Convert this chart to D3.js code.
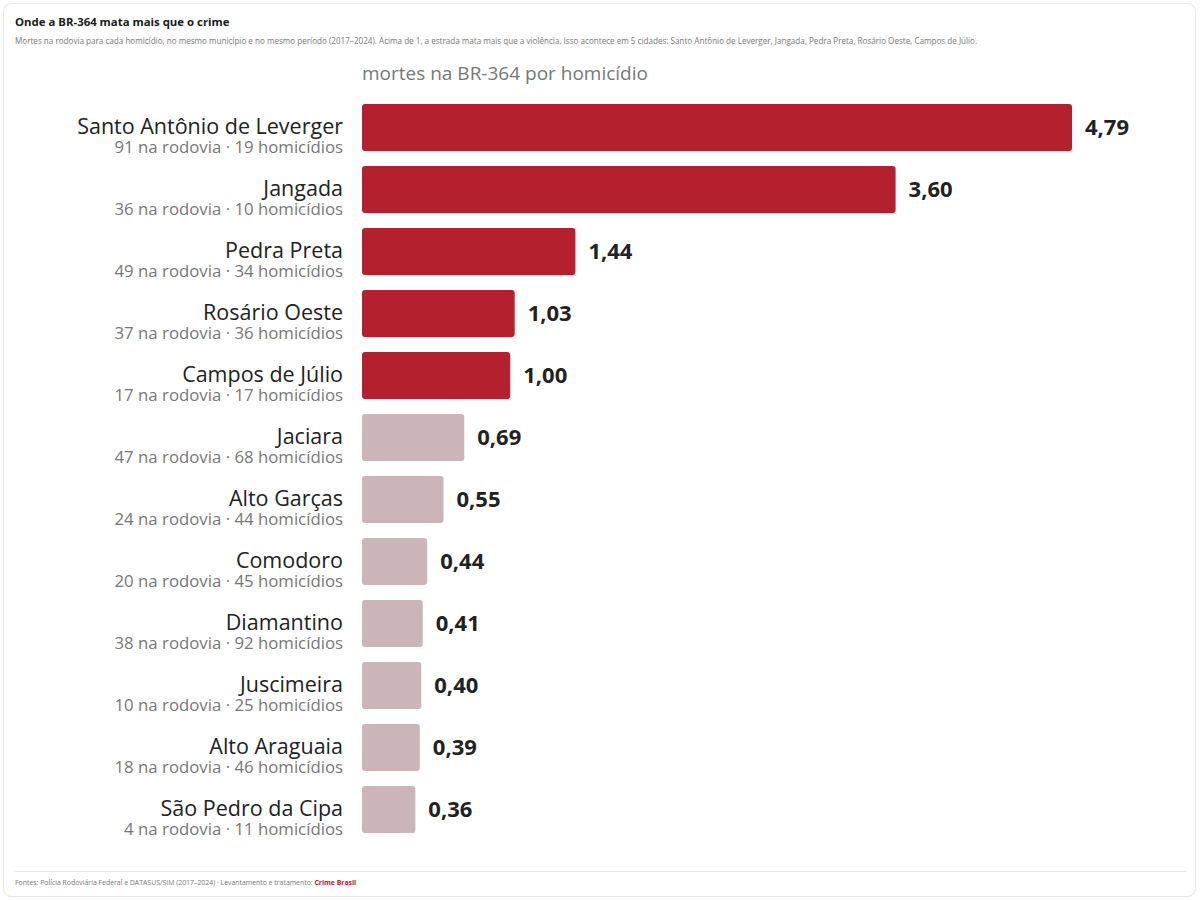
<!DOCTYPE html>
<html>
<head>
<meta charset="utf-8">
<script src="https://cdn.jsdelivr.net/npm/d3@7"></script>
<style>
  html, body { margin: 0; padding: 0; background: #fff; }
  svg { display: block; font-family: "Open Sans", "Noto Sans", sans-serif; }
</style>
</head>
<body>
<svg id="chart" width="1200" height="900"></svg>
<script>
const cities = ["Santo Antônio de Leverger", "Jangada", "Pedra Preta", "Rosário Oeste", "Campos de Júlio", "Jaciara", "Alto Garças", "Comodoro", "Diamantino", "Juscimeira", "Alto Araguaia", "São Pedro da Cipa"];
const ratios = [4.79, 3.60, 1.44, 1.03, 1.00, 0.69, 0.55, 0.44, 0.41, 0.40, 0.39, 0.36];
const roadDeaths = [91, 36, 49, 37, 17, 47, 24, 20, 38, 10, 18, 4];
const homicides = [19, 10, 34, 36, 17, 68, 44, 45, 92, 25, 46, 11];

const titleText = "Onde a BR-364 mata mais que o crime";
const subtitleText = "Mortes na rodovia para cada homicídio, no mesmo município e no mesmo período (2017–2024). Acima de 1, a estrada mata mais que a violência. Isso acontece em 5 cidades: Santo Antônio de Leverger, Jangada, Pedra Preta, Rosário Oeste, Campos de Júlio.";
const axisTitle = "mortes na BR-364 por homicídio";
const sourceText = "Fontes: Polícia Rodoviária Federal e DATASUS/SIM (2017–2024) · Levantamento e tratamento: ";
const sourceBrand = "Crime Brasil";

const data = cities.map((c, i) => ({ city: c, ratio: ratios[i], road: roadDeaths[i], hom: homicides[i] }));

const svg = d3.select("#chart");

// card
svg.append("rect").attr("x", 3.5).attr("y", 3.5).attr("width", 1192).attr("height", 893)
  .attr("rx", 8).attr("fill", "#fff").attr("stroke", "#e6e6e6");

svg.append("text").attr("x", 15).attr("y", 26).attr("font-size", 11.4).attr("font-weight", 700)
  .attr("fill", "#1a1a1a").text(titleText);
svg.append("text").attr("x", 15).attr("y", 44).attr("font-size", 8.1).attr("fill", "#777")
  .text(subtitleText);

const x = d3.scaleLinear().domain([0, 4.79]).range([362, 1072]);
const y = d3.scaleBand().domain(cities).range([96.5, 840.5]).paddingInner(0.242).paddingOuter(0.121);

svg.append("text").attr("x", 362).attr("y", 80).attr("font-size", 19).attr("fill", "#777")
  .text(axisTitle);

const fmt = v => d3.format(".2f")(v).replace(".", ",");

const rows = svg.append("g").selectAll("g").data(data).join("g");

rows.append("rect")
  .attr("x", x(0))
  .attr("y", d => y(d.city))
  .attr("width", d => x(d.ratio) - x(0))
  .attr("height", y.bandwidth())
  .attr("rx", 3)
  .attr("fill", d => d.ratio >= 1 ? "#b5202e" : "#cbb5b8");

rows.append("text")
  .attr("x", d => x(d.ratio) + 13)
  .attr("y", d => y(d.city) + y.bandwidth() / 2)
  .attr("dy", "0.36em")
  .attr("font-size", 22).attr("font-weight", 700).attr("fill", "#222")
  .text(d => fmt(d.ratio));

rows.append("text")
  .attr("x", 343)
  .attr("y", d => y(d.city) + y.bandwidth() / 2 + 6.5)
  .attr("text-anchor", "end")
  .attr("font-size", 21.5).attr("fill", "#222")
  .text(d => d.city);

rows.append("text")
  .attr("x", 343)
  .attr("y", d => y(d.city) + y.bandwidth() / 2 + 25)
  .attr("text-anchor", "end")
  .attr("font-size", 16.8).attr("fill", "#777")
  .text(d => `${d.road} na rodovia · ${d.hom} homicídios`);

// footer
svg.append("line").attr("x1", 15).attr("x2", 1186).attr("y1", 871.5).attr("y2", 871.5)
  .attr("stroke", "#e8e8e8");
const foot = svg.append("text").attr("x", 15).attr("y", 885).attr("font-size", 6.9).attr("fill", "#777");
foot.append("tspan").text(sourceText);
foot.append("tspan").attr("fill", "#b5202e").attr("font-weight", 700).text(sourceBrand);
</script>
</body>
</html>
